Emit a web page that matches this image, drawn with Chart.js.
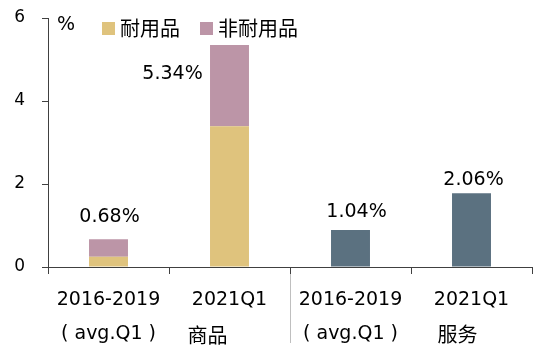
<!DOCTYPE html>
<html><head><meta charset="utf-8">
<script src="https://cdn.jsdelivr.net/npm/chart.js@4"></script>
<style>html,body{margin:0;padding:0;background:#fff}#wrap{width:560px;height:358px;position:relative}</style>
</head><body><div id="wrap"><canvas id="c" width="560" height="358"></canvas></div>
<script>
const categories = [['2016-2019','( avg.Q1 )'], ['2021Q1'], ['2016-2019','( avg.Q1 )'], ['2021Q1']];
const groupLabels = ['商品', '服务'];
const seriesNames = ['耐用品', '非耐用品', '服务'];
const durable = [0.25, 3.39, null, null];
const nonDurable = [0.42, 1.96, null, null];
const services = [null, null, 0.89, 1.78];
const valueLabels = ['0.68%', '5.34%', '1.04%', '2.06%'];
const yTicks = [0, 2, 4, 6];
const yUnit = '%';

const FONT = "'DejaVu Sans', 'Noto Sans CJK SC', sans-serif";
const CJK = "'Noto Sans CJK SC', sans-serif";
const COLORS = ['#DFC37D', '#BC95A7', '#5B7180'];

const overlay = {
  id: 'overlay',
  afterDraw(chart) {
    const ctx = chart.ctx;
    const xs = chart.scales.x, ys = chart.scales.y;
    ctx.save();
    // separator line between groups
    const sepX = Math.round((xs.getPixelForValue(1) + xs.getPixelForValue(2)) / 2) + 0.5;
    ctx.strokeStyle = '#BFBFBF';
    ctx.lineWidth = 1;
    ctx.beginPath();
    ctx.moveTo(sepX, ys.bottom + 7);
    ctx.lineTo(sepX, 343);
    ctx.stroke();
    // group labels
    ctx.fillStyle = '#000';
    ctx.font = '20px ' + CJK;
    ctx.textAlign = 'center';
    ctx.textBaseline = 'middle';
    ctx.fillText(groupLabels[0], xs.getPixelForValue(1) - 22, 335);
    ctx.fillText(groupLabels[1], xs.getPixelForValue(3) - 14, 334);
    // value labels
    const totals = durable.map((d, i) => (d || 0) + (nonDurable[i] || 0) + (services[i] || 0));
    const off = [[1, -17], [-57, 34], [6, -13], [2, -8]];
    ctx.font = '19px ' + FONT;
    ctx.textBaseline = 'alphabetic';
    valueLabels.forEach((t, i) => {
      const x = xs.getPixelForValue(i) + off[i][0];
      const y = ys.getPixelForValue(totals[i]) + off[i][1];
      ctx.fillText(t, x, y);
    });
    // unit
    ctx.textAlign = 'left';
    ctx.fillText(yUnit, 57, 30);
    // legend
    const lxs = [102, 200];
    ctx.font = '20px ' + CJK;
    ctx.textBaseline = 'middle';
    for (let k = 0; k < 2; k++) {
      ctx.fillStyle = COLORS[k];
      ctx.fillRect(lxs[k], 22, 13, 13);
      ctx.fillStyle = '#000';
      ctx.fillText(seriesNames[k], lxs[k] + 18, 28);
    }
    ctx.restore();
  }
};

new Chart(document.getElementById('c'), {
  type: 'bar',
  data: {
    labels: categories,
    datasets: [
      { label: seriesNames[0], data: durable, backgroundColor: COLORS[0] },
      { label: seriesNames[1], data: nonDurable, backgroundColor: COLORS[1] },
      { label: seriesNames[2], data: services, backgroundColor: COLORS[2] }
    ]
  },
  options: {
    responsive: false,
    animation: false,
    categoryPercentage: 1,
    barPercentage: 0.322,
    layout: { padding: { top: 18, right: 28, left: 0, bottom: 0 } },
    plugins: { legend: { display: false }, tooltip: { enabled: false } },
    scales: {
      x: {
        stacked: true,
        offset: true,
        grid: { drawOnChartArea: false, tickLength: 7, color: '#404040' },
        border: { color: '#404040' },
        ticks: { color: '#000', font: { size: 19, family: FONT, lineHeight: 1.8 }, padding: 9, maxRotation: 0, autoSkip: false },
        afterFit: s => { s.height = 91; s.paddingLeft = 0; s.paddingRight = 0; }
      },
      y: {
        stacked: true,
        min: 0, max: 6,
        afterBuildTicks: s => { s.ticks = yTicks.map(v => ({ value: v })); },
        grid: { drawOnChartArea: false, tickLength: 6, color: '#404040' },
        border: { color: '#404040' },
        ticks: { color: '#000', font: { size: 17, family: FONT }, padding: 17 },
        afterFit: s => { s.width = 48; s.paddingTop = 0; s.paddingBottom = 0; }
      }
    }
  },
  plugins: [overlay]
});
</script>
</body></html>
